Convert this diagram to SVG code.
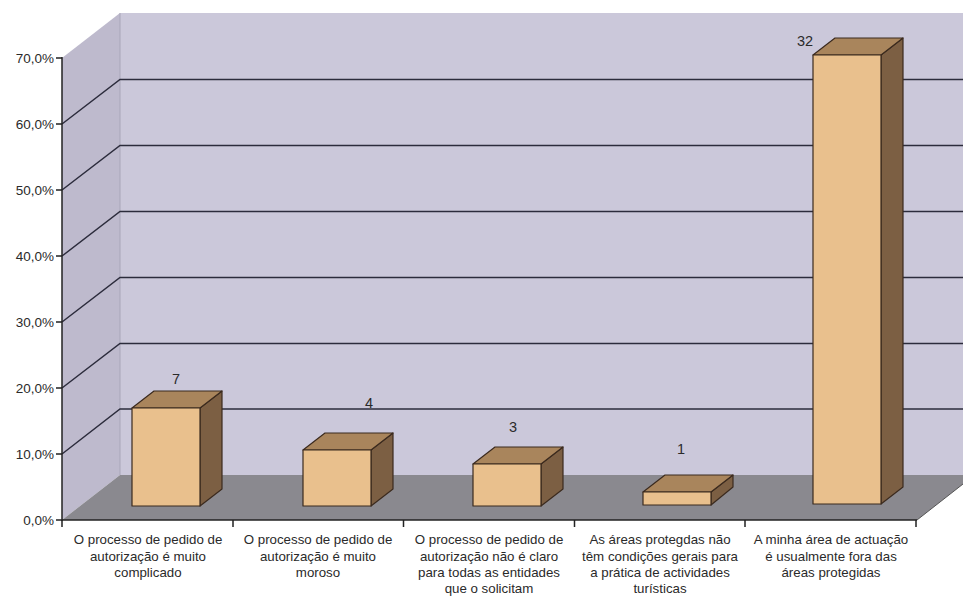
<svg xmlns="http://www.w3.org/2000/svg" width="963" height="596" viewBox="0 0 963 596">
<style>
  .wall{fill:#cbc8da}
  .lwall{fill:#bebacd}
  .floor{fill:#8a898f}
  .grid{stroke:#2c2c3c;stroke-width:1.5;fill:none}
  .axis{stroke:#222;stroke-width:1.5;fill:none}
  .front{fill:#e9c08d;stroke:#3b2a1e;stroke-width:1.2;stroke-linejoin:round}
  .top{fill:#a9855c;stroke:#3b2a1e;stroke-width:1.2;stroke-linejoin:round}
  .side{fill:#7c5f43;stroke:#3b2a1e;stroke-width:1.2;stroke-linejoin:round}
  .ylab{font-family:"Liberation Sans",Arial,sans-serif;font-size:13.5px;fill:#2a2a2a;text-anchor:end}
  .val{font-family:"Liberation Sans",Arial,sans-serif;font-size:14.5px;fill:#2a2a2a;text-anchor:middle}
  .cat{font-family:"Liberation Sans",Arial,sans-serif;font-size:13.3px;fill:#2a2a2a;text-anchor:middle}
</style>
<rect x="0" y="0" width="963" height="596" fill="#ffffff"/>
<g id="walls">
  <rect class="wall" x="120" y="13" width="843" height="462"/>
  <polygon class="lwall" points="62,58 120,13 120,475 62,520"/>
  <line x1="120" y1="13" x2="120" y2="475" stroke="#a9a6b8" stroke-width="1"/>
  <polygon class="floor" points="62,520 120,475 963,475 963,484 917,520"/>
</g>
<g id="gridlines">
  <polyline class="grid" points="62,454 120,409 963,409"/>
  <polyline class="grid" points="62,388 120,343.5 963,343.5"/>
  <polyline class="grid" points="62,322 120,277.5 963,277.5"/>
  <polyline class="grid" points="62,256 120,211.5 963,211.5"/>
  <polyline class="grid" points="62,190 120,145.5 963,145.5"/>
  <polyline class="grid" points="62,124 120,79.5 963,79.5"/>
  <line x1="917" y1="520" x2="963" y2="484" stroke="#555" stroke-width="1"/>
</g>
<g id="axes">
  <line class="axis" x1="62" y1="57" x2="62" y2="521"/>
  <line class="axis" x1="62" y1="520" x2="917" y2="520"/>
  <path class="axis" d="M56,58H62M56,124H62M56,190H62M56,256H62M56,322H62M56,388H62M56,454H62M56,520H62"/>
  <path class="axis" d="M62,520V527M233,520V527M403.5,520V527M574.5,520V527M745,520V527M916,520V527"/>
  <text class="ylab" x="54" y="63">70,0%</text>
  <text class="ylab" x="54" y="129">60,0%</text>
  <text class="ylab" x="54" y="195">50,0%</text>
  <text class="ylab" x="54" y="261">40,0%</text>
  <text class="ylab" x="54" y="327">30,0%</text>
  <text class="ylab" x="54" y="393">20,0%</text>
  <text class="ylab" x="54" y="459">10,0%</text>
  <text class="ylab" x="54" y="525">0,0%</text>
</g>
<g id="bar1">
  <polygon class="side" points="200,408 222,391 222,489 200,506"/>
  <polygon class="top" points="132,408 154,391 222,391 200,408"/>
  <rect class="front" x="132" y="408" width="68" height="98"/>
  <text class="val" x="176" y="384">7</text>
</g>
<g id="bar2">
  <polygon class="side" points="371,450 393,433 393,489 371,506"/>
  <polygon class="top" points="303,450 325,433 393,433 371,450"/>
  <rect class="front" x="303" y="450" width="68" height="56"/>
  <text class="val" x="369" y="408">4</text>
</g>
<g id="bar3">
  <polygon class="side" points="541,464 563,447 563,489 541,506"/>
  <polygon class="top" points="473,464 495,447 563,447 541,464"/>
  <rect class="front" x="473" y="464" width="68" height="42"/>
  <text class="val" x="513" y="432">3</text>
</g>
<g id="bar4">
  <polygon class="side" points="711,492 733,475 733,487 711,505"/>
  <polygon class="top" points="643,492 665,475 733,475 711,492"/>
  <rect class="front" x="643" y="492" width="68" height="13"/>
  <text class="val" x="681" y="454">1</text>
</g>
<g id="bar5">
  <polygon class="side" points="881,55 903,38 903,487 881,504"/>
  <polygon class="top" points="813,55 835,38 903,38 881,55"/>
  <rect class="front" x="813" y="55" width="68" height="449"/>
  <text class="val" x="805" y="46">32</text>
</g>
<g id="categories">
  <text class="cat" x="148" y="544">O processo de pedido de</text>
  <text class="cat" x="148" y="560.5">autorização é muito</text>
  <text class="cat" x="148" y="577">complicado</text>
  <text class="cat" x="318" y="544">O processo de pedido de</text>
  <text class="cat" x="318" y="560.5">autorização é muito</text>
  <text class="cat" x="318" y="577">moroso</text>
  <text class="cat" x="489" y="544">O processo de pedido de</text>
  <text class="cat" x="489" y="560.5">autorização não é claro</text>
  <text class="cat" x="489" y="577">para todas as entidades</text>
  <text class="cat" x="489" y="592.5">que o solicitam</text>
  <text class="cat" x="660" y="544">As áreas protegdas não</text>
  <text class="cat" x="660" y="560.5">têm condições gerais para</text>
  <text class="cat" x="660" y="577">a prática de actividades</text>
  <text class="cat" x="660" y="592.5">turísticas</text>
  <text class="cat" x="831" y="544">A minha área de actuação</text>
  <text class="cat" x="831" y="560.5">é usualmente fora das</text>
  <text class="cat" x="831" y="577">áreas protegidas</text>
</g>
</svg>
